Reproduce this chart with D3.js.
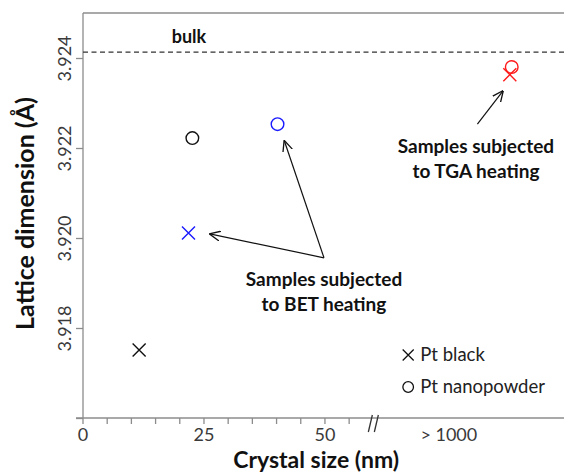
<!DOCTYPE html>
<meta charset="utf-8">
<head>
	<script src="https://d3js.org/d3.v7.min.js"></script>
</head>
<style>
	body {
		margin: 0;
		background: #fff;
	}
	text {
		font-family: "Lato", "Open Sans", sans-serif;
	}
	.axisLine {
		stroke: #8c8c8c;
		stroke-width: 1.3px;
		fill: none;
	}
	.tickLabel {
		font-size: 18px;
		fill: #3a3a3a;
	}
	.note {
		font-size: 19px;
		font-weight: 700;
		fill: #111;
	}
	.arrow {
		stroke: #111;
		stroke-width: 1.2px;
		fill: none;
	}
</style>
<body>
<div id="chart"></div>
<script>
	// ***** Data *****
	// x is the position on the broken axis (0-60 nm linear, then "> 1000" group)
	var ptBlack = [
		{ x: 11.6, y: 3.91751, color: "#111111" },
		{ x: 21.8, y: 3.92011, color: "#1a1aff" },
		{ x: 88.2, y: 3.92363, color: "#ff1a1a" }
	];
	var ptNano = [
		{ x: 22.6, y: 3.92222, color: "#111111" },
		{ x: 40.2, y: 3.92253, color: "#1a1aff" },
		{ x: 88.6, y: 3.92380, color: "#ff1a1a" }
	];
	var bulkValue = 3.92413;
	var yTicks = [3.916, 3.918, 3.920, 3.922, 3.924];
	var yTickLabels = ["", "3.918", "3.920", "3.922", "3.924"];
	var xMajorTicks = [0, 25, 50];
	var xMinorTicks = [0, 5, 10, 15, 20, 25, 30, 35, 40, 45, 50, 55];
	var xBreak = 60;
	var xBigLabel = { x: 75.6, text: "> 1000" };
	var legendItems = ["Pt black", "Pt nanopowder"];

	// annotations in data coordinates
	var betNote = { x: 49.8, y: 3.91893, lines: ["Samples subjected", "to BET heating"] };
	var betArrows = [
		{ from: [49.8, 3.91956], to: [26.2, 3.92009] },
		{ from: [49.8, 3.91956], to: [41.6, 3.92216] }
	];
	var tgaNote = { x: 81.2, y: 3.92190, lines: ["Samples subjected", "to TGA heating"] };
	var tgaArrows = [
		{ from: [81.5, 3.92253], to: [86.8, 3.92327] }
	];

	// ***** Layout *****
	var W = 564, H = 473;
	var margin = { top: 13, right: 0, bottom: 55, left: 83 };
	var width = W - margin.left - margin.right,
	    height = H - margin.top - margin.bottom;

	var svg = d3.select("#chart").append("svg")
		.attr("width", W)
		.attr("height", H);

	var g = svg.append("g")
		.attr("transform", "translate(" + margin.left + "," + margin.top + ")");

	var x = d3.scaleLinear()
		.domain([0, 99.4])
		.range([0, width]);
	var y = d3.scaleLinear()
		.domain([3.916, 3.925])
		.range([height, 0]);

	var defs = svg.append("defs");
	defs.append("marker")
		.attr("id", "head")
		.attr("viewBox", "0 0 10 10")
		.attr("refX", 9.5)
		.attr("refY", 5)
		.attr("markerWidth", 11)
		.attr("markerHeight", 11)
		.attr("markerUnits", "userSpaceOnUse")
		.attr("orient", "auto")
	  .append("path")
		.attr("d", "M0,0.5 L10,5 L0,9.5")
		.attr("fill", "none")
		.attr("stroke", "#111")
		.attr("stroke-width", 1.2);

	// ***** Axes *****
	// top border and left axis
	g.append("line").attr("class", "axisLine")
		.attr("x1", 0).attr("x2", width).attr("y1", 0).attr("y2", 0);

	var yAxis = d3.axisLeft(y)
		.tickValues(yTicks)
		.tickSize(7)
		.tickFormat(function(d, i) { return yTickLabels[i]; });

	var yG = g.append("g").call(yAxis);
	yG.select(".domain").attr("class", "axisLine").attr("d", "M0," + height + "V0");
	yG.selectAll(".tick line").attr("stroke", "#8c8c8c").attr("stroke-width", 1.3);
	yG.selectAll(".tick text")
		.attr("class", "tickLabel")
		.attr("x", 0).attr("dy", 0)
		.attr("text-anchor", "middle")
		.attr("transform", "translate(-12,0) rotate(-90)");

	// bottom axis
	g.append("line").attr("class", "axisLine")
		.attr("x1", -7).attr("x2", width)
		.attr("y1", height).attr("y2", height);

	g.selectAll(".xMinor")
		.data(xMinorTicks)
	  .enter().append("line")
		.attr("class", "axisLine")
		.attr("x1", function(d) { return x(d); })
		.attr("x2", function(d) { return x(d); })
		.attr("y1", height).attr("y2", height + 6);

	g.selectAll(".xLabel")
		.data(xMajorTicks)
	  .enter().append("text")
		.attr("class", "tickLabel")
		.attr("x", function(d) { return x(d); })
		.attr("y", height + 23)
		.attr("text-anchor", "middle")
		.text(function(d) { return d; });

	g.append("text")
		.attr("class", "tickLabel")
		.attr("x", x(xBigLabel.x))
		.attr("y", height + 23)
		.attr("text-anchor", "middle")
		.text(xBigLabel.text);

	// axis break marks "//"
	[-3, 3].forEach(function(off) {
		g.append("line")
			.attr("stroke", "#333")
			.attr("stroke-width", 1.3)
			.attr("x1", x(xBreak) + off + 2).attr("y1", height - 3)
			.attr("x2", x(xBreak) + off - 2).attr("y2", height + 14);
	});

	// axis titles
	g.append("text")
		.attr("x", x(48.2))
		.attr("y", height + 50)
		.attr("text-anchor", "middle")
		.style("font-size", "23px")
		.style("font-weight", 700)
		.style("fill", "#111")
		.text("Crystal size (nm)");

	g.append("text")
		.attr("transform", "translate(" + (-58) + "," + (height / 2 - 2) + ") rotate(-90)")
		.attr("text-anchor", "middle")
		.attr("dy", "0.35em")
		.style("font-size", "25px")
		.style("font-weight", 700)
		.style("fill", "#111")
		.text("Lattice dimension (\u00c5)");

	// ***** Bulk reference *****
	g.append("line")
		.attr("x1", 0).attr("x2", width)
		.attr("y1", y(bulkValue)).attr("y2", y(bulkValue))
		.attr("stroke", "#333")
		.attr("stroke-width", 1.3)
		.attr("stroke-dasharray", "5,3.5");
	g.append("text")
		.attr("class", "note")
		.style("font-size", "18px")
		.attr("x", x(21.9))
		.attr("y", y(bulkValue) - 9)
		.attr("text-anchor", "middle")
		.text("bulk");

	// ***** Points *****
	var cross = function(sel, s) {
		sel.append("path")
			.attr("d", "M" + (-s) + "," + (-s) + "L" + s + "," + s + "M" + (-s) + "," + s + "L" + s + "," + (-s));
	};

	g.selectAll(".blackPt")
		.data(ptBlack)
	  .enter().append("g")
		.attr("transform", function(d) { return "translate(" + x(d.x) + "," + y(d.y) + ")"; })
		.attr("stroke", function(d) { return d.color; })
		.attr("stroke-width", 1.4)
		.attr("fill", "none")
		.call(cross, 6.5);

	g.selectAll(".nanoPt")
		.data(ptNano)
	  .enter().append("circle")
		.attr("cx", function(d) { return x(d.x); })
		.attr("cy", function(d) { return y(d.y); })
		.attr("r", 6.3)
		.attr("fill", "none")
		.attr("stroke", function(d) { return d.color; })
		.attr("stroke-width", 1.4);

	// ***** Annotations *****
	function drawNote(note) {
		g.append("text")
			.attr("class", "note")
			.attr("x", x(note.x))
			.attr("y", y(note.y))
			.attr("text-anchor", "middle")
			.selectAll("tspan")
			.data(note.lines)
		  .enter().append("tspan")
			.attr("x", x(note.x))
			.attr("dy", function(d, i) { return i ? 25 : 0; })
			.text(function(d) { return d; });
	}
	drawNote(betNote);
	drawNote(tgaNote);

	g.selectAll(".arrowLine")
		.data(betArrows.concat(tgaArrows))
	  .enter().append("line")
		.attr("class", "arrow")
		.attr("x1", function(d) { return x(d.from[0]); })
		.attr("y1", function(d) { return y(d.from[1]); })
		.attr("x2", function(d) { return x(d.to[0]); })
		.attr("y2", function(d) { return y(d.to[1]); })
		.attr("marker-end", "url(#head)");

	// ***** Legend *****
	var legend = g.append("g")
		.attr("transform", "translate(" + x(67.2) + "," + y(3.9174) + ")");

	var li = legend.selectAll("g")
		.data(legendItems)
	  .enter().append("g")
		.attr("transform", function(d, i) { return "translate(0," + (i * 32) + ")"; });

	li.filter(function(d, i) { return i === 0; })
		.append("g")
		.attr("stroke", "#111").attr("stroke-width", 1.3)
		.call(cross, 5.5);
	li.filter(function(d, i) { return i === 1; })
		.append("circle")
		.attr("r", 5.3)
		.attr("fill", "none")
		.attr("stroke", "#111").attr("stroke-width", 1.3);

	li.append("text")
		.attr("x", 12)
		.attr("dy", "0.35em")
		.style("font-size", "18.5px")
		.style("font-weight", 400)
		.style("fill", "#222")
		.text(function(d) { return d; });
</script>
</body>
